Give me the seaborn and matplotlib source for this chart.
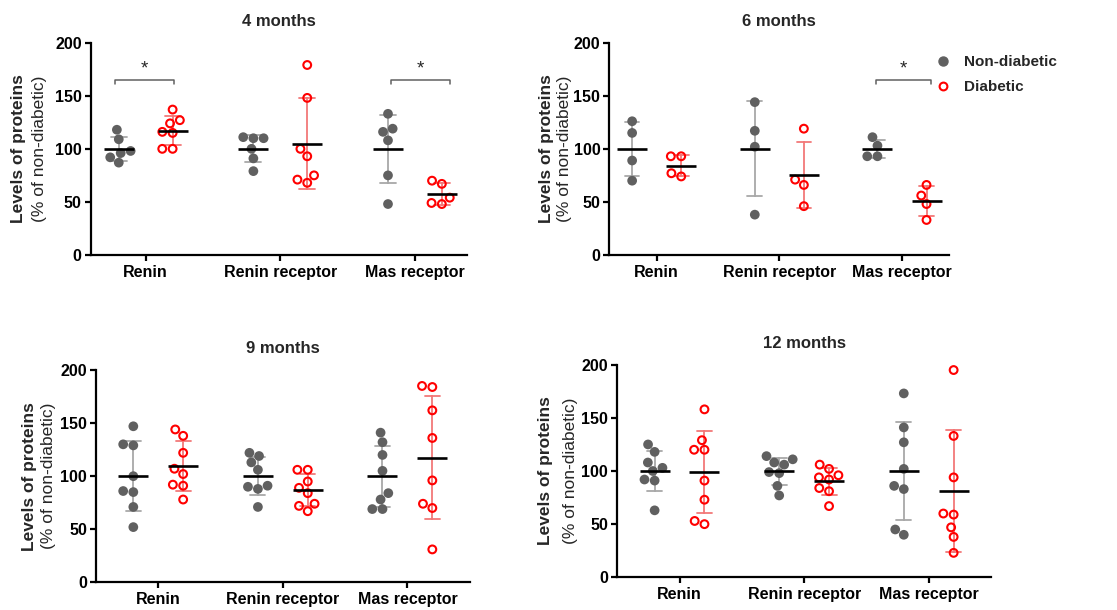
import matplotlib
matplotlib.use("Agg")
import matplotlib.pyplot as plt
from matplotlib.lines import Line2D
import numpy as np
import pandas as pd
import seaborn as sns

sns.set_style("ticks")
plt.rcParams["font.family"] = ["Liberation Sans", "DejaVu Sans"]
plt.rcParams["font.weight"] = "bold"

proteins = ["Renin", "Renin receptor", "Mas receptor"]
groups = ["Non-diabetic", "Diabetic"]
titles = ["4 months", "6 months", "9 months", "12 months"]

# values (% of non-diabetic)
m4_nondiab = [[118, 109, 98, 96, 92, 87],
              [111, 110, 110, 100, 91, 79],
              [133, 119, 116, 108, 75, 48]]
m4_diab = [[137, 127, 124, 116, 115, 100, 100],
           [179, 148, 100, 93, 75, 71, 68],
           [70, 67, 54, 49, 48]]
m6_nondiab = [[126, 115, 89, 70],
              [144, 117, 102, 38],
              [111, 103, 93, 93]]
m6_diab = [[93, 93, 77, 74],
           [119, 71, 66, 46],
           [66, 56, 48, 33]]
m9_nondiab = [[147, 130, 129, 100, 86, 85, 71, 52],
              [122, 119, 113, 106, 91, 90, 88, 71],
              [141, 132, 120, 105, 84, 78, 69, 69]]
m9_diab = [[144, 138, 122, 107, 102, 92, 91, 78],
           [106, 106, 95, 89, 84, 74, 72, 67],
           [185, 184, 162, 136, 96, 74, 70, 31]]
m12_nondiab = [[125, 118, 108, 103, 100, 92, 91, 63],
               [114, 111, 108, 106, 99, 98, 86, 77],
               [173, 141, 127, 102, 86, 83, 45, 40]]
m12_diab = [[158, 129, 120, 120, 91, 73, 53, 50],
            [106, 102, 96, 94, 92, 84, 81, 67],
            [195, 133, 94, 60, 59, 47, 38, 23]]

# significance brackets: (x start, x end, height)
sig_4 = [(-0.23, 0.21, 165), (1.82, 2.26, 165)]
sig_6 = [(1.79, 2.24, 165)]
sig_9 = []
sig_12 = []

ND_COLOR = "#606060"
D_COLOR = "#ff0000"
err_palette = {"Non-diabetic": "#a8a8a8", "Diabetic": "#f27878"}
pt_palette = {"Non-diabetic": ND_COLOR, "Diabetic": D_COLOR}
mean_palette = {"Non-diabetic": "black", "Diabetic": "black"}


def make_df(nondiab, diab):
    rows = []
    for p, nd, d in zip(proteins, nondiab, diab):
        for v in nd:
            rows.append({"protein": p, "group": "Non-diabetic", "value": v})
        for v in d:
            rows.append({"protein": p, "group": "Diabetic", "value": v})
    return pd.DataFrame(rows)


def draw_panel(ax, df, title, brackets, lab_off):
    # SD error bars
    sns.pointplot(data=df, x="protein", y="value", hue="group", order=proteins,
                  hue_order=groups, palette=err_palette, dodge=0.4, errorbar="sd",
                  capsize=0.12, linestyle="none", marker="", markersize=0,
                  err_kws={"linewidth": 1.3, "zorder": 1}, legend=False, ax=ax)
    # individual points
    sns.swarmplot(data=df, x="protein", y="value", hue="group", order=proteins,
                  hue_order=groups, palette=pt_palette, dodge=True, size=7,
                  legend=False, ax=ax, zorder=3)
    for coll in ax.collections:
        fc = coll.get_facecolor()
        if len(fc) and fc[0][0] > 0.9 and fc[0][1] < 0.1:
            coll.set_facecolor("none")
            coll.set_edgecolor(D_COLOR)
            coll.set_linewidth(1.5)
            coll.set_sizes([5.6 ** 2])
    # mean lines
    sns.pointplot(data=df, x="protein", y="value", hue="group", order=proteins,
                  hue_order=groups, palette=mean_palette, dodge=0.4, errorbar=None,
                  linestyle="none", marker="_", markersize=22, markeredgewidth=1.9,
                  legend=False, ax=ax, zorder=4)

    for x1, x2, y in brackets:
        ax.plot([x1, x1, x2, x2], [y - 4, y, y, y - 4], color=ND_COLOR, lw=1.1)
        ax.text((x1 + x2) / 2, y + 6, "*", ha="center", va="baseline",
                fontsize=13.5, fontweight="normal")

    ax.set_ylim(0, 200)
    ax.set_yticks([0, 50, 100, 150, 200])
    ax.set_xlabel("")
    ax.set_ylabel("")
    sns.despine(ax=ax)
    for s in ["left", "bottom"]:
        ax.spines[s].set_linewidth(1.6)
        ax.spines[s].set_color("black")
    ax.tick_params(axis="both", width=1.6, length=4, labelsize=11.5, colors="black")
    ax.tick_params(axis="x", pad=3)
    ax.tick_params(axis="y", pad=2.5)
    ax.set_title(title, fontsize=12, fontweight="bold", pad=12)

    ax.annotate("Levels of proteins", xy=(0, 0.5), xycoords="axes fraction",
                xytext=(lab_off[0] * 0.72, 0), textcoords="offset points",
                rotation=90, ha="center", va="center", fontsize=12.5,
                fontweight="bold")
    ax.annotate("(% of non-diabetic)", xy=(0, 0.5), xycoords="axes fraction",
                xytext=(lab_off[1] * 0.72, 0), textcoords="offset points",
                rotation=90, ha="center", va="center", fontsize=12.5,
                fontweight="normal")


fig = plt.figure(figsize=(11.17, 6.10), dpi=100)

panels = [
    ([0.0812, 0.582, 0.3369, 0.348], m4_nondiab, m4_diab, sig_4, (-72, -51)),
    ([0.5455, 0.582, 0.3044, 0.348], m6_nondiab, m6_diab, sig_6, (-63, -45)),
    ([0.0859, 0.0454, 0.3346, 0.348], m9_nondiab, m9_diab, sig_9, (-66, -47)),
    ([0.5526, 0.0536, 0.3346, 0.3485], m12_nondiab, m12_diab, sig_12, (-72, -47)),
]

for (rect, nd, d, sig, off), title in zip(panels, titles):
    ax = fig.add_axes(rect)
    draw_panel(ax, make_df(nd, d), title, sig, off)

handles = [
    Line2D([], [], marker="o", linestyle="none", markersize=6.5,
           markerfacecolor=ND_COLOR, markeredgecolor=ND_COLOR),
    Line2D([], [], marker="o", linestyle="none", markersize=5.6,
           markerfacecolor="none", markeredgecolor=D_COLOR, markeredgewidth=1.5),
]
fig.legend(handles, groups, loc="upper left", bbox_to_anchor=(935 / 1117, 1 - 55 / 610),
           frameon=False, handlelength=1.0, handletextpad=0.9,
           labelspacing=0.72, borderpad=0, borderaxespad=0,
           prop={"weight": "bold", "size": 11})

fig.savefig("out.png", dpi=100)
